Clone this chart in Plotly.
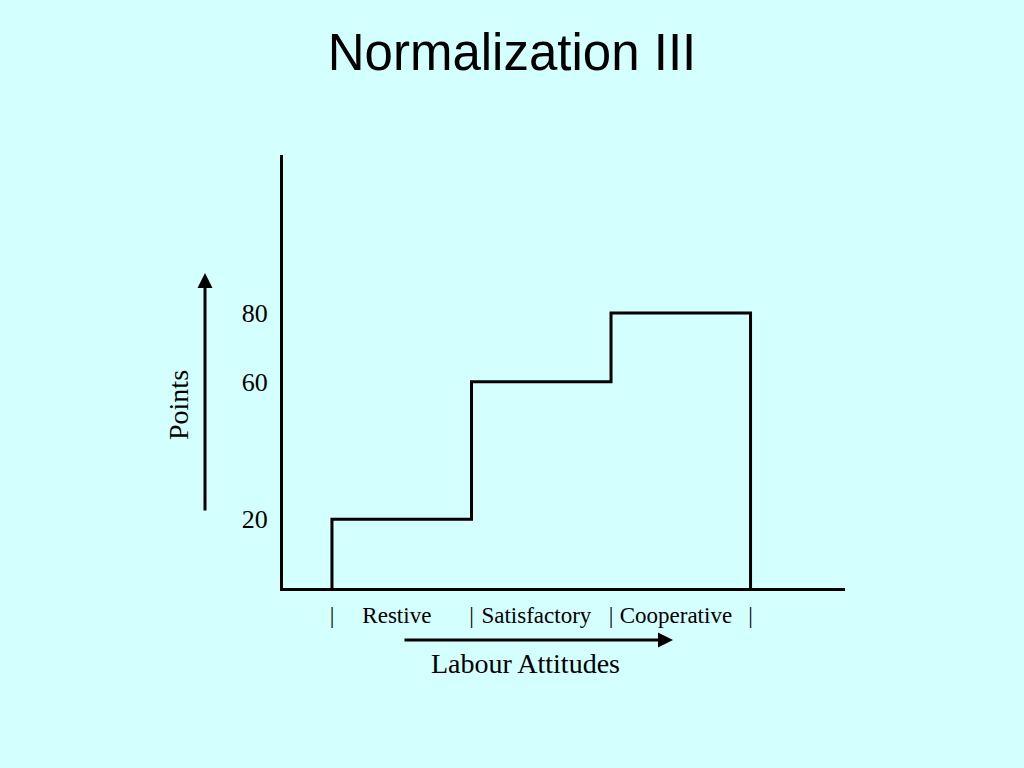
import plotly.graph_objects as go

# Data
categories = ["Restive", "Satisfactory", "Cooperative"]
points = [20, 60, 80]
boundaries = [0, 1, 2, 3]
y_ticks = [20, 60, 80]
title_text = "Normalization III"
x_title = "Labour Attitudes"
y_title = "Points"

# Build step outline from the data
xs = [boundaries[0]]
ys = [0]
for i, v in enumerate(points):
    xs += [boundaries[i], boundaries[i + 1]]
    ys += [v, v]
xs.append(boundaries[-1])
ys.append(0)

BG = "#D4FFFF"
SERIF = "Liberation Serif, Times New Roman, serif"

fig = go.Figure()
fig.add_trace(go.Scatter(x=xs, y=ys, mode="lines",
                         line=dict(color="black", width=3),
                         hoverinfo="skip", showlegend=False))

# x tick labels: separators at boundaries, names at midpoints
tickvals = []
ticktext = []
for b in boundaries:
    tickvals.append(b)
    ticktext.append("|")
for i, c in enumerate(categories):
    tickvals.append((boundaries[i] + boundaries[i + 1]) / 2 - 0.035)
    ticktext.append(c)

L, R, T, B = 283, 179, 155, 180
W, H = 1024, 768
pw, ph = W - L - R, H - T - B

def px(x):
    return (x - L) / pw

def py(y):
    return (H - B - y) / ph

fig.update_layout(
    width=W, height=H,
    paper_bgcolor=BG, plot_bgcolor=BG,
    margin=dict(l=L, r=R, t=T, b=B, pad=0),
    title=dict(text=title_text, x=0.5, xanchor="center",
               y=1 - 52 / H, yanchor="middle", yref="container",
               font=dict(family="Liberation Sans, Arial, sans-serif", size=51, color="black")),
    xaxis=dict(range=[-0.351, 3.677], showgrid=False, zeroline=False,
               showline=True, linecolor="black", linewidth=3,
               tickmode="array", tickvals=tickvals, ticktext=ticktext,
               ticks="", ticklabelstandoff=4,
               tickfont=dict(family=SERIF, size=23, color="black")),
    yaxis=dict(range=[0, 126], showgrid=False, zeroline=False,
               showline=True, linecolor="black", linewidth=3,
               tickmode="array", tickvals=y_ticks,
               ticktext=[str(t) for t in y_ticks],
               ticks="", ticklabelstandoff=7,
               tickfont=dict(family=SERIF, size=26, color="black")),
    annotations=[
        # y arrow
        dict(x=px(205), y=py(273), xref="paper", yref="paper",
             ax=0, ay=239, axref="pixel", ayref="pixel",
             showarrow=True, arrowhead=2, arrowsize=1, arrowwidth=3,
             arrowcolor="black", text=""),
        dict(x=px(178), y=py(405), xref="paper", yref="paper",
             text=y_title, showarrow=False, textangle=-90,
             font=dict(family=SERIF, size=28, color="black"),
             xanchor="center", yanchor="middle"),
        # x arrow
        dict(x=px(673), y=py(640), xref="paper", yref="paper",
             ax=-270, ay=0, axref="pixel", ayref="pixel",
             showarrow=True, arrowhead=2, arrowsize=1, arrowwidth=3,
             arrowcolor="black", text=""),
        dict(x=px(525), y=py(663), xref="paper", yref="paper",
             text=x_title, showarrow=False,
             font=dict(family=SERIF, size=28, color="black"),
             xanchor="center", yanchor="middle"),
    ],
)

fig.write_html(
    "out.html",
    config={"displayModeBar": False},
    post_script="document.body.style.margin='0';document.body.style.padding='0';"
                "document.body.style.overflow='hidden';"
                "document.body.style.background='" + BG + "';",
)
